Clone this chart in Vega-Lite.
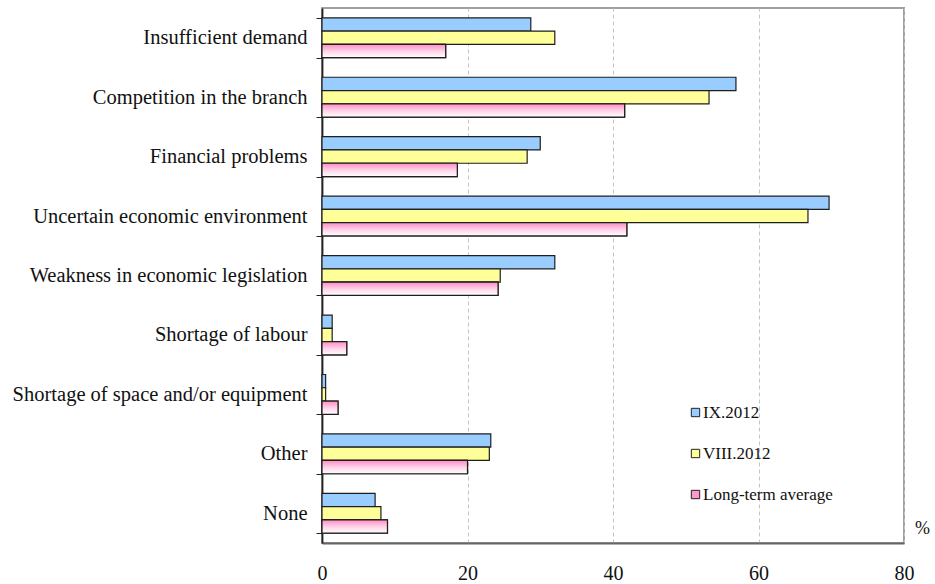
{
  "$schema": "https://vega.github.io/schema/vega-lite/v6.json",
  "autosize": "none",
  "width": 582,
  "height": 535,
  "padding": {"left": 322, "top": 8, "right": 31, "bottom": 41},
  "background": "white",
  "config": {
    "font": "Liberation Serif",
    "view": {"stroke": "#a0a0a0", "strokeWidth": 2}
  },
  "data": {
    "values": [
      {"cause": "Insufficient demand", "series": "IX.2012", "value": 28.7},
      {"cause": "Insufficient demand", "series": "VIII.2012", "value": 32.0},
      {"cause": "Insufficient demand", "series": "Long-term average", "value": 17.0},
      {"cause": "Competition in the branch", "series": "IX.2012", "value": 56.9},
      {"cause": "Competition in the branch", "series": "VIII.2012", "value": 53.2},
      {"cause": "Competition in the branch", "series": "Long-term average", "value": 41.6},
      {"cause": "Financial problems", "series": "IX.2012", "value": 30.0},
      {"cause": "Financial problems", "series": "VIII.2012", "value": 28.2},
      {"cause": "Financial problems", "series": "Long-term average", "value": 18.6},
      {"cause": "Uncertain economic environment", "series": "IX.2012", "value": 69.7},
      {"cause": "Uncertain economic environment", "series": "VIII.2012", "value": 66.8},
      {"cause": "Uncertain economic environment", "series": "Long-term average", "value": 41.9},
      {"cause": "Weakness in economic legislation", "series": "IX.2012", "value": 32.0},
      {"cause": "Weakness in economic legislation", "series": "VIII.2012", "value": 24.5},
      {"cause": "Weakness in economic legislation", "series": "Long-term average", "value": 24.2},
      {"cause": "Shortage of labour", "series": "IX.2012", "value": 1.4},
      {"cause": "Shortage of labour", "series": "VIII.2012", "value": 1.4},
      {"cause": "Shortage of labour", "series": "Long-term average", "value": 3.4},
      {"cause": "Shortage of space and/or equipment", "series": "IX.2012", "value": 0.5},
      {"cause": "Shortage of space and/or equipment", "series": "VIII.2012", "value": 0.5},
      {"cause": "Shortage of space and/or equipment", "series": "Long-term average", "value": 2.2},
      {"cause": "Other", "series": "IX.2012", "value": 23.2},
      {"cause": "Other", "series": "VIII.2012", "value": 23.0},
      {"cause": "Other", "series": "Long-term average", "value": 20.0},
      {"cause": "None", "series": "IX.2012", "value": 7.3},
      {"cause": "None", "series": "VIII.2012", "value": 8.1},
      {"cause": "None", "series": "Long-term average", "value": 9.0}
    ]
  },
  "encoding": {
    "y": {
      "field": "cause",
      "type": "nominal",
      "sort": null,
      "scale": {"paddingInner": 0.33, "paddingOuter": 0.165},
      "axis": {
        "title": null,
        "tickBand": "extent",
        "tickSize": 6,
        "tickColor": "#222",
        "domainColor": "#222",
        "domainWidth": 1.8,
        "labelPadding": 9,
        "labelFontSize": 20.5,
        "labelColor": "#111",
        "labelLimit": 400
      }
    },
    "yOffset": {
      "field": "series",
      "type": "nominal",
      "scale": {"domain": ["IX.2012", "VIII.2012", "Long-term average"], "paddingInner": 0, "paddingOuter": 0}
    },
    "x": {
      "field": "value",
      "type": "quantitative",
      "scale": {"domain": [0, 80], "nice": false},
      "axis": {
        "values": [0, 20, 40, 60, 80],
        "ticks": false,
        "labelFlush": false,
        "labelPadding": 20,
        "labelFontSize": 20,
        "labelColor": "#111",
        "domainColor": "#666",
        "domainWidth": 2,
        "grid": true,
        "gridColor": "#c4c4c4",
        "gridDash": [4, 3],
        "title": "%",
        "titleFontSize": 18,
        "titleFontWeight": "normal",
        "titleColor": "#111",
        "titleX": 600,
        "titleY": -24
      }
    }
  },
  "layer": [
    {
      "mark": {"type": "bar", "stroke": "#1e1e1e", "strokeWidth": 1.2},
      "encoding": {
        "color": {
          "field": "series",
          "type": "nominal",
          "scale": {"domain": ["IX.2012", "VIII.2012", "Long-term average"], "range": ["#99ccff", "#ffff99", "#ff99cc"]},
          "legend": {
            "title": null,
            "orient": "none",
            "legendX": 365,
            "legendY": 396,
            "symbolType": "square",
            "symbolSize": 70,
            "symbolStrokeColor": "#222",
            "symbolStrokeWidth": 1,
            "labelFontSize": 17,
            "labelColor": "#111",
            "rowPadding": 23,
            "labelOffset": -1,
            "labelExpr": "indexof(datum.label, 'IX') === 0 ? '\u00a0\u00a0\u00a0' + datum.label : datum.label"
          }
        }
      }
    },
    {
      "transform": [{"filter": "datum.series == 'Long-term average'"}],
      "mark": {
        "type": "bar",
        "stroke": "#1e1e1e",
        "strokeWidth": 1.2,
        "fill": {
          "gradient": "linear",
          "x1": 0, "y1": 0, "x2": 0, "y2": 1,
          "stops": [
            {"offset": 0, "color": "#ff8cc6"},
            {"offset": 0.55, "color": "#ffd6ea"},
            {"offset": 1, "color": "#ffffff"}
          ]
        }
      }
    }
  ]
}
